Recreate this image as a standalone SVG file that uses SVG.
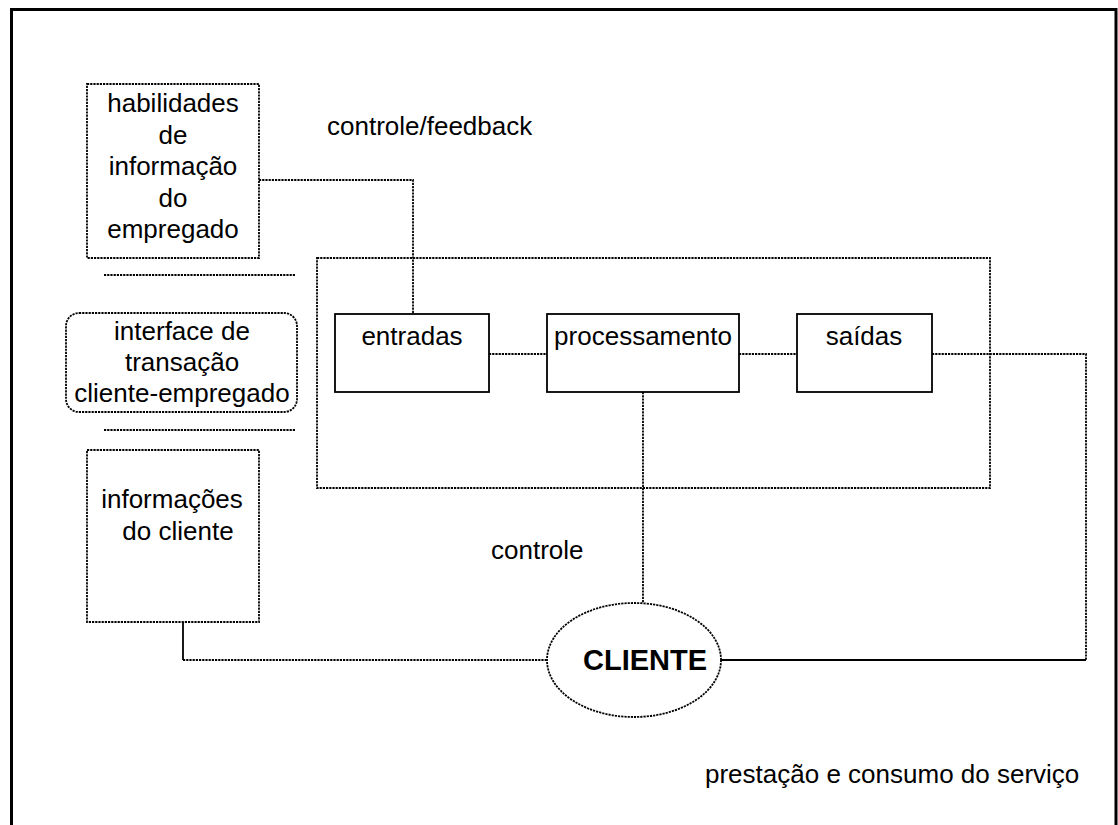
<svg xmlns="http://www.w3.org/2000/svg" width="1118" height="825" viewBox="0 0 1118 825">
  <style>
    text { font-family: "Liberation Sans", Arial, sans-serif; font-size: 26px; fill: #000; }
    .mid { text-anchor: middle; }
    .dot { fill: none; stroke: #000; stroke-width: 1.8; stroke-dasharray: 2.2 1; }
    .solid { fill: none; stroke: #000; stroke-width: 1.8; }
    .box { fill: #fff; stroke: #000; stroke-width: 1.8; }
    .dbox { fill: #fff; stroke: #000; stroke-width: 1.8; stroke-dasharray: 2.2 1; }
    .bold { font-weight: bold; font-size: 29px; }
  </style>
  <rect width="1118" height="825" fill="#fff"/>

  <!-- page frame -->
  <path d="M11.5 825 V9.5 H1116 V825" fill="none" stroke="#000" stroke-width="3"/>

  <!-- system boundary -->
  <rect id="sistema" x="317" y="258" width="673" height="230" class="dot"/>

  <!-- separators around the interface -->
  <line x1="104" y1="275" x2="295" y2="275" class="dot"/>
  <line x1="104" y1="430" x2="295" y2="430" class="dot"/>

  <g id="connectors">
    <polyline points="259,180 413,180 413,314" class="dot"/>
    <line x1="489" y1="354" x2="547" y2="354" class="dot"/>
    <line x1="739" y1="354" x2="797" y2="354" class="dot"/>
    <polyline points="932,354 1086,354 1086,660" class="dot"/>
    <line x1="1086" y1="660" x2="721" y2="660" class="solid"/>
    <line x1="643" y1="392" x2="643" y2="603" class="dot"/>
    <line x1="183" y1="622" x2="183" y2="660" class="solid"/>
    <line x1="183" y1="660" x2="547" y2="660" class="dot"/>
  </g>

  <g id="habilidades">
    <rect x="87" y="84" width="172" height="174" class="dbox"/>
    <text x="173" y="112" class="mid">habilidades</text>
    <text x="173" y="143.5" class="mid">de</text>
    <text x="173" y="175" class="mid">informação</text>
    <text x="173" y="206.5" class="mid">do</text>
    <text x="173" y="238" class="mid">empregado</text>
  </g>

  <g id="interface">
    <rect x="66" y="313" width="231" height="99" rx="13" class="dbox"/>
    <text x="182" y="340" class="mid">interface de</text>
    <text x="182" y="371" class="mid">transação</text>
    <text x="182" y="402" class="mid">cliente-empregado</text>
  </g>

  <g id="informacoes">
    <rect x="87" y="450" width="172" height="172" class="dbox"/>
    <text x="172" y="508" class="mid">informações</text>
    <text x="178" y="540" class="mid">do cliente</text>
  </g>

  <g id="entradas">
    <rect x="335" y="314" width="154" height="78" class="box"/>
    <text x="412" y="345" class="mid">entradas</text>
  </g>

  <g id="processamento">
    <rect x="547" y="314" width="192" height="78" class="box"/>
    <text x="643" y="345" class="mid">processamento</text>
  </g>

  <g id="saidas">
    <rect x="797" y="314" width="135" height="78" class="box"/>
    <text x="864" y="345" class="mid">saídas</text>
  </g>

  <g id="cliente">
    <ellipse cx="634" cy="660" rx="87" ry="57" class="dbox"/>
    <text x="645" y="670" class="mid bold">CLIENTE</text>
  </g>

  <g id="labels">
    <text x="327" y="135">controle/feedback</text>
    <text x="491" y="559">controle</text>
    <text x="705" y="783">prestação e consumo do serviço</text>
  </g>
</svg>
